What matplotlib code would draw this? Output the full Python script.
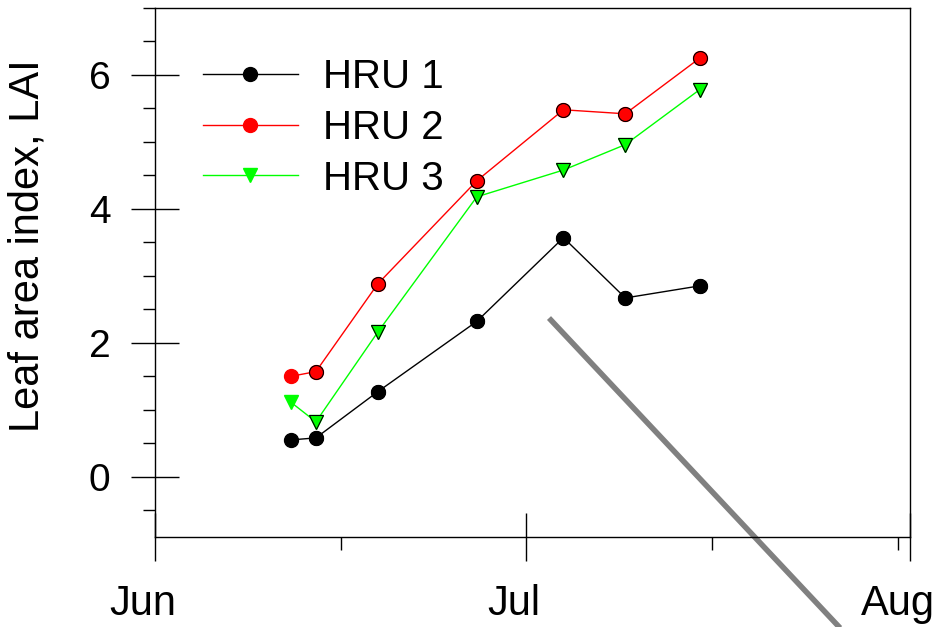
import matplotlib
matplotlib.use("Agg")
import matplotlib.pyplot as plt
import matplotlib.dates as mdates
import matplotlib.transforms as mtransforms
from matplotlib.ticker import FixedLocator, MultipleLocator
import numpy as np

plt.rcParams['font.family'] = ['Liberation Sans', 'DejaVu Sans']

# sampling dates
dates = np.array(['2000-06-12', '2000-06-14', '2000-06-19', '2000-06-27',
                  '2000-07-04', '2000-07-09', '2000-07-15'], dtype='datetime64[D]')

# leaf area index per HRU
hru1 = [0.55, 0.58, 1.27, 2.32, 3.57, 2.67, 2.85]
hru2 = [1.50, 1.57, 2.88, 4.42, 5.48, 5.42, 6.25]
hru3 = [1.11, 0.82, 2.16, 4.18, 4.58, 4.96, 5.78]

# grey guide line
guide_x = np.array(['2000-07-02T20', '2000-07-29T00'], dtype='datetime64[h]')
guide_y = [2.37, -2.78]

month_ticks = np.array(['2000-06-01', '2000-07-01', '2000-08-01'], dtype='datetime64[D]')
half_ticks = np.arange(np.datetime64('2000-06-01'), np.datetime64('2000-08-02'), 15)


def main():
    fig = plt.figure(figsize=(9.35, 6.27), dpi=100)
    ax = fig.add_axes([155 / 935, 90 / 627, 755 / 935, 529 / 627])

    series = [(hru1, 'black', 'o', 'HRU 1'),
              (hru2, 'red', 'o', 'HRU 2'),
              (hru3, '#00ff00', 'v', 'HRU 3')]
    for vals, col, mk, lab in series:
        ax.plot(dates, vals, color=col, lw=1.0, marker=mk, ms=10,
                mec=col, mfc=col, label=lab, zorder=3)
        ax.plot(dates[1:], vals[1:], ls='none', marker=mk, ms=10,
                mfc=col, mec='black', mew=0.8, zorder=4)

    ax.plot(guide_x, guide_y, color='#808080', lw=4, solid_capstyle='butt',
            clip_on=False, zorder=2)

    ax.set_xlim(month_ticks[0], month_ticks[-1])
    ax.set_ylim(-0.9, 7)

    ax.xaxis.set_major_locator(FixedLocator(mdates.date2num(month_ticks)))
    ax.xaxis.set_minor_locator(FixedLocator(mdates.date2num(half_ticks)))
    ax.xaxis.set_major_formatter(mdates.DateFormatter('%b'))
    ax.yaxis.set_major_locator(MultipleLocator(2))
    ax.yaxis.set_minor_locator(MultipleLocator(0.5))

    ax.tick_params(which='major', direction='inout', length=34, width=1,
                   labelsize=28, pad=15)
    ax.tick_params(axis='x', which='major', labelsize=30, pad=17)
    ax.tick_params(which='minor', direction='out', length=9, width=1)
    for lab in ax.get_xticklabels():
        lab.set_transform(lab.get_transform() +
                          mtransforms.ScaledTranslation(-12 / 100, 0, fig.dpi_scale_trans))
    for sp in ax.spines.values():
        sp.set_linewidth(1)

    ax.set_ylabel('Leaf area index, LAI', fontsize=30)
    ax.yaxis.set_label_coords(-0.142, 0.55)

    ax.legend(loc='upper left', bbox_to_anchor=(0.0636, 0.906), frameon=False,
              fontsize=29, handlelength=2.35, handletextpad=0.62,
              labelspacing=0.32, borderpad=0, borderaxespad=0)

    fig.savefig('out.png', dpi=100)


if __name__ == "__main__":
    main()
